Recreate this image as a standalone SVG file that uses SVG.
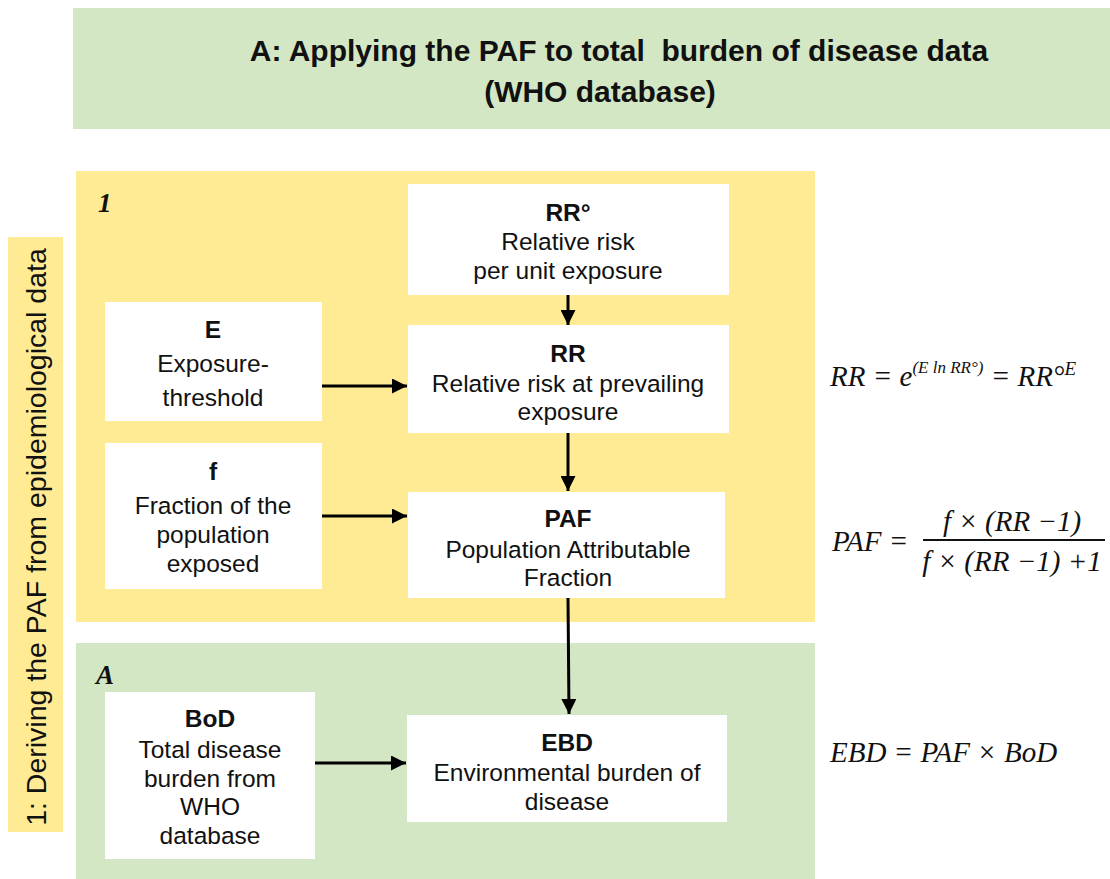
<svg xmlns="http://www.w3.org/2000/svg" width="1110" height="879" viewBox="0 0 1110 879">
<defs>
<marker id="ah" viewBox="0 0 10 10" refX="10" refY="5" markerWidth="15" markerHeight="15" markerUnits="userSpaceOnUse" orient="auto">
<path d="M0,0 L10,5 L0,10 z" fill="#000"/>
</marker>
<style>
.t{font-family:"Liberation Sans",Arial,sans-serif;font-size:24.5px;fill:#111;text-anchor:middle}
.b{font-weight:bold}
.m{font-family:"Liberation Serif","Times New Roman",serif;font-style:italic;font-size:29px;fill:#111}
.box{fill:#fff}
.c{stroke:#000;stroke-width:3;fill:none;marker-end:url(#ah)}
</style>
</defs>
<rect width="1110" height="879" fill="#fff"/>
<g id="banner">
<rect x="73" y="8" width="1037" height="121" fill="#d3e7c4"/>
<text class="t b" x="619" y="61" style="font-size:30px" xml:space="preserve">A: Applying the PAF to total  burden of disease data</text>
<text class="t b" x="600" y="102" style="font-size:30px">(WHO database)</text>
</g>
<g id="panel1">
<rect x="76" y="171" width="739" height="451" fill="#ffeb94"/>
<text class="m" x="98" y="212" style="font-weight:bold;font-size:27px">1</text>
</g>
<g id="panelA">
<rect x="76" y="643" width="739" height="236" fill="#d3e7c4"/>
<text class="m" x="96" y="684" style="font-weight:bold;font-size:27px">A</text>
</g>
<g id="sidelabel">
<rect x="8" y="237" width="55" height="595" fill="#ffeb94"/>
<text class="t" transform="translate(46,537) rotate(-90)" style="font-size:28.5px">1: Deriving the PAF from epidemiological data</text>
</g>
<g id="connectors">
<line class="c" x1="568" y1="295" x2="568" y2="325"/>
<line class="c" x1="568" y1="433" x2="568" y2="491"/>
<line class="c" x1="568" y1="598" x2="569" y2="714"/>
<line class="c" x1="322" y1="386" x2="407" y2="386"/>
<line class="c" x1="322" y1="516" x2="407" y2="516"/>
<line class="c" x1="315" y1="763" x2="406" y2="763"/>
</g>
<g id="node-RR0">
<rect class="box" x="408" y="184" width="321" height="111"/>
<text class="t b" x="568" y="221">RR°</text>
<text class="t" x="568" y="250">Relative risk</text>
<text class="t" x="568" y="279">per unit exposure</text>
</g>
<g id="node-E">
<rect class="box" x="105" y="302" width="217" height="119"/>
<text class="t b" x="213" y="338">E</text>
<text class="t" x="213" y="372">Exposure-</text>
<text class="t" x="213" y="406">threshold</text>
</g>
<g id="node-RR">
<rect class="box" x="408" y="325" width="321" height="108"/>
<text class="t b" x="568" y="362">RR</text>
<text class="t" x="568" y="392">Relative risk at prevailing</text>
<text class="t" x="568" y="420">exposure</text>
</g>
<g id="node-f">
<rect class="box" x="105" y="443" width="217" height="146"/>
<text class="t b" x="213" y="480">f</text>
<text class="t" x="213" y="514">Fraction of the</text>
<text class="t" x="213" y="543">population</text>
<text class="t" x="213" y="572">exposed</text>
</g>
<g id="node-PAF">
<rect class="box" x="408" y="492" width="317" height="106"/>
<text class="t b" x="568" y="527">PAF</text>
<text class="t" x="568" y="558">Population Attributable</text>
<text class="t" x="568" y="586">Fraction</text>
</g>
<g id="node-BoD">
<rect class="box" x="105" y="692" width="210" height="167"/>
<text class="t b" x="210" y="727">BoD</text>
<text class="t" x="210" y="758">Total disease</text>
<text class="t" x="210" y="787">burden from</text>
<text class="t" x="210" y="815">WHO</text>
<text class="t" x="210" y="844">database</text>
</g>
<g id="node-EBD">
<rect class="box" x="407" y="715" width="320" height="107"/>
<text class="t b" x="567" y="751">EBD</text>
<text class="t" x="567" y="781">Environmental burden of</text>
<text class="t" x="567" y="810">disease</text>
</g>
<g id="formulas">
<text class="m" x="830" y="386">RR = e<tspan dy="-13" style="font-size:17px">(E ln RR°)</tspan><tspan dy="13"> = RR°</tspan><tspan dy="-11" style="font-size:19px">E</tspan></text>
<text class="m" x="832" y="551">PAF =</text>
<text class="m" x="1012" y="531" text-anchor="middle">f × (RR −1)</text>
<line x1="923" y1="540" x2="1105" y2="540" stroke="#111" stroke-width="1.8"/>
<text class="m" x="1012" y="571" text-anchor="middle">f × (RR −1) +1</text>
<text class="m" x="830" y="762">EBD = PAF × BoD</text>
</g>
</svg>
